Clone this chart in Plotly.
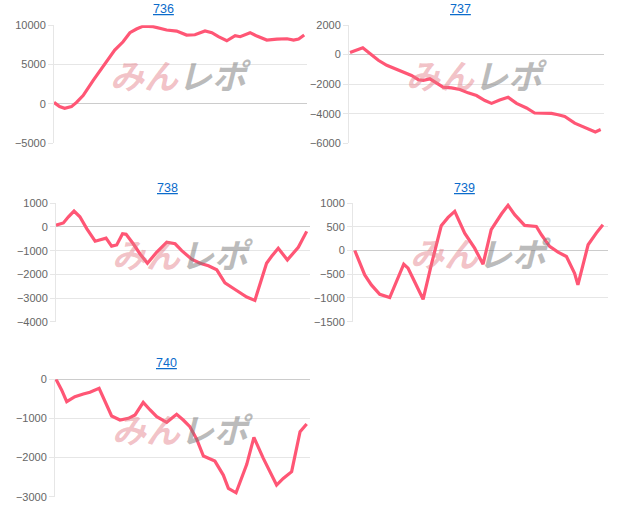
import plotly.graph_objects as go

W, H = 617, 521

titles = ["736", "737", "738", "739", "740"]

x736 = [0, 2.2, 4.2, 6.9, 8.9, 11.5, 15.5, 19.4, 24.0, 27.3, 30.0, 32.6, 35.3, 39.2, 41.9, 44.5, 48.5,
        52.4, 55.7, 59.7, 62.4, 65.0, 68.3, 71.6, 73.6, 77.5, 80.2, 84.1, 88.1, 92.1, 94.7, 96.7, 98.9]
y736 = [200, -340, -550, -340, 200, 1070, 3000, 4700, 6840, 7900, 9060, 9530, 9900, 9830, 9600, 9400, 9270,
        8760, 8800, 9270, 9060, 8550, 8030, 8680, 8550, 9060, 8630, 8120, 8250, 8290, 8120, 8250, 8760]

x737 = [0.4, 3.0, 5.4, 8.2, 11.5, 14.8, 18.0, 21.3, 24.5, 27.2, 29.1, 31.7, 34.3, 36.9, 40.2, 43.5, 46.7,
        50.0, 53.3, 55.9, 59.1, 62.4, 65.7, 69.6, 72.8, 76.1, 79.4, 82.0, 84.6, 88.5, 92.4, 96.6, 98.7]
y737 = [136, 295, 455, 68, -386, -727, -955, -1180, -1410, -1700, -1750, -1640, -1930, -2200, -2250, -2360, -2590,
        -2770, -3110, -3300, -3070, -2890, -3300, -3610, -3950, -3950, -3980, -4070, -4180, -4640, -4930, -5230, -5070]

x738 = [0, 2.9, 4.9, 7.1, 9.4, 12.1, 15.4, 17.3, 19.7, 21.9, 23.9, 26.2, 27.6, 30.4, 33.1, 36.0, 39.6,
        43.6, 46.9, 49.5, 53.4, 56.7, 60.0, 63.3, 66.5, 70.5, 75.1, 78.3, 82.9, 84.9, 87.5, 91.1, 95.4, 98.7]
y738 = [71, 171, 430, 670, 430, -71, -600, -540, -470, -810, -760, -286, -310, -710, -1140, -1530, -1070,
        -640, -710, -1000, -1360, -1530, -1640, -1810, -2360, -2640, -2960, -3100, -1530, -1240, -900, -1390, -860, -186]

x739 = [0.7, 4.6, 7.2, 10.5, 14.4, 17.0, 19.9, 21.6, 24.8, 27.5, 30.7, 34.6, 37.3, 39.9, 43.8, 47.7, 51.0,
        54.2, 58.2, 60.8, 63.4, 67.3, 71.9, 73.9, 77.1, 80.4, 83.7, 86.9, 88.2, 92.2, 95.4, 98.0]
y739 = [0, -514, -725, -922, -993, -655, -289, -373, -725, -1028, -303, 521, 697, 824, 366, 49, -289,
        437, 768, 951, 754, 528, 507, 331, 85, -35, -127, -479, -725, 120, 366, 542]

x740 = [0.4, 2.6, 4.6, 7.8, 11.1, 13.7, 17.3, 19.6, 22.2, 25.5, 28.8, 31.4, 34.6, 37.3, 39.9, 43.8, 47.7,
        50.3, 52.9, 55.6, 58.2, 62.7, 66.0, 68.0, 71.0, 75.2, 78.0, 81.7, 86.9, 89.5, 92.8, 96.1, 98.7]
y740 = [0, -273, -571, -443, -375, -332, -230, -571, -938, -1040, -997, -912, -588, -784, -955, -1100, -895,
        -1040, -1210, -1534, -1960, -2090, -2447, -2788, -2900, -2173, -1483, -2020, -2702, -2532, -2361, -1338, -1142]

xs = [x736, x737, x738, x739, x740]
ys = [y736, y737, y738, y739, y740]
y_ranges = [[-5000, 10000], [-6000, 2000], [-4000, 1000], [-1500, 1000], [-3000, 0]]
y_dticks = [5000, 2000, 1000, 500, 1000]

# plot areas in pixels: (left, right, top, bottom)
boxes = [(54, 307, 25.3, 143.3), (349, 604, 25, 143.3), (56, 310, 203.3, 321.7),
         (353, 608, 203, 321.7), (55, 310, 379.3, 496.7)]
title_pos = [(163, 9), (460, 9), (167, 187.5), (464, 187.5), (166, 362.5)]

LINE = "#ff5675"
fig = go.Figure()
layout = dict(template="none", width=W, height=H,
              margin=dict(l=0, r=0, t=0, b=0, pad=0, autoexpand=False),
              paper_bgcolor="white", plot_bgcolor="white", showlegend=False,
              font=dict(family="Liberation Sans, Arial, sans-serif", size=11, color="#666"))
annotations = []
for i in range(5):
    n = "" if i == 0 else str(i + 1)
    l, r, t, b = boxes[i]
    fig.add_trace(go.Scatter(x=xs[i], y=ys[i], mode="lines", xaxis="x" + n, yaxis="y" + n,
                             line=dict(color=LINE, width=3.2), hoverinfo="x+y"))
    layout["xaxis" + n] = dict(domain=[l / W, r / W], range=[0, 100], anchor="y" + n,
                               showgrid=False, zeroline=False, showticklabels=False, showline=False,
                               ticks="", automargin=False, fixedrange=True)
    layout["yaxis" + n] = dict(domain=[1 - b / H, 1 - t / H], range=y_ranges[i], dtick=y_dticks[i],
                               tickformat="d", anchor="x" + n, showgrid=True, gridcolor="#e6e6e6",
                               gridwidth=1, zeroline=True, zerolinecolor="#cccccc", zerolinewidth=1,
                               showline=True, linecolor="#e6e6e6", linewidth=1, ticks="outside",
                               ticklen=5, tickcolor="#e6e6e6", tickfont=dict(size=11, color="#666"),
                               automargin=False, fixedrange=True)
    tx, ty = title_pos[i]
    annotations.append(dict(text="<u>" + titles[i] + "</u>", x=tx / W, y=1 - ty / H,
                            xref="paper", yref="paper", xanchor="center", yanchor="middle",
                            showarrow=False,
                            font=dict(size=12.5, color="#0b6bcb",
                                      family="Liberation Sans, Arial, sans-serif")))
    annotations.append(dict(
        text="<b><i><span style='color:rgba(226,120,130,0.45)'>みん</span>"
             "<span style='color:rgba(120,120,120,0.5)'>レポ</span></i></b>",
        x=0.5, y=0.58, xref="x" + n + " domain", yref="y" + n + " domain",
        xanchor="center", yanchor="middle",
        showarrow=False, font=dict(size=34, family="Noto Sans CJK JP")))

layout["annotations"] = annotations
fig.update_layout(**layout)
fig.write_html("out.html", config={"displayModeBar": False},
               post_script="document.body.style.margin='0';document.body.style.overflow='hidden';")
